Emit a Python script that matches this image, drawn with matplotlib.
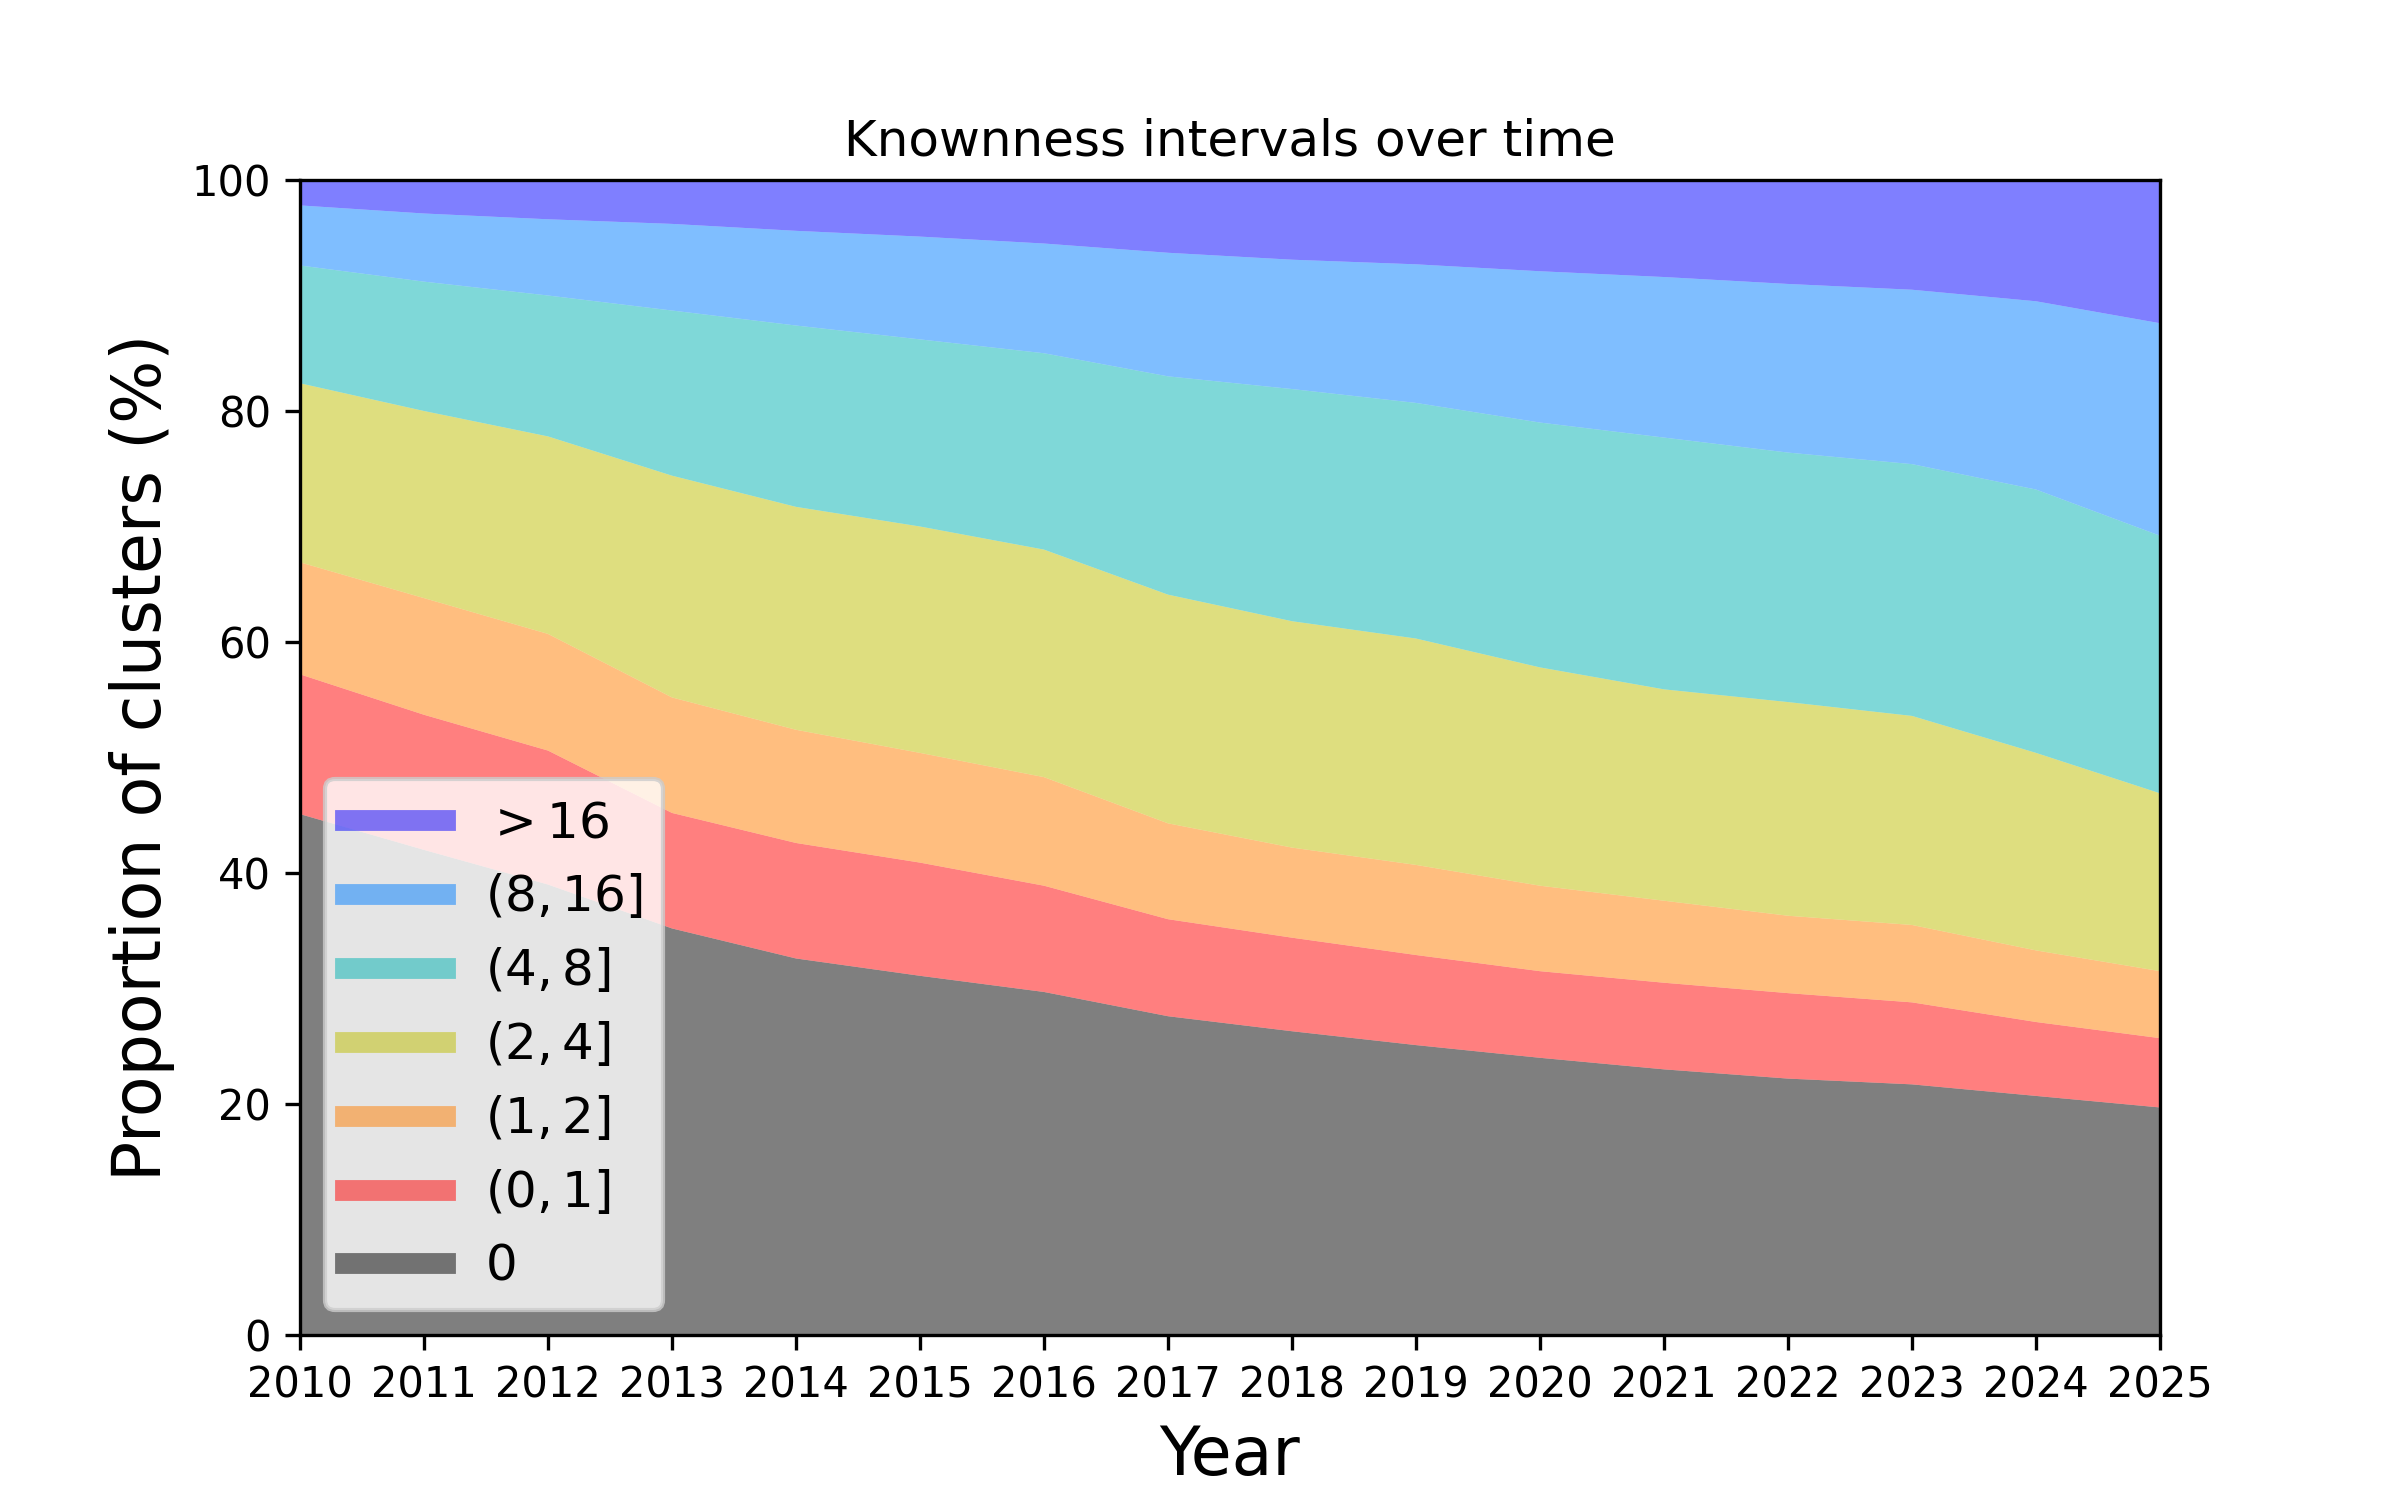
import numpy as np
import matplotlib
matplotlib.use("Agg")
import matplotlib.pyplot as plt

years = np.arange(2010, 2026)

# share of clusters (%) per knownness interval
zero    = [45.1, 42.0, 39.0, 35.2, 32.6, 31.1, 29.7, 27.6, 26.3, 25.1, 24.0, 23.0, 22.2, 21.7, 20.7, 19.7]
k0_1    = [12.1, 11.7, 11.6, 10.0, 10.0, 9.8, 9.2, 8.4, 8.1, 7.8, 7.5, 7.5, 7.4, 7.1, 6.4, 6.0]
k1_2    = [9.7, 10.1, 10.1, 10.0, 9.8, 9.5, 9.4, 8.3, 7.8, 7.8, 7.4, 7.1, 6.7, 6.7, 6.2, 5.8]
k2_4    = [15.5, 16.2, 17.1, 19.2, 19.3, 19.6, 19.7, 19.8, 19.6, 19.6, 18.9, 18.3, 18.5, 18.1, 17.1, 15.4]
k4_8    = [10.2, 11.2, 12.2, 14.3, 15.7, 16.2, 17.0, 18.9, 20.1, 20.4, 21.2, 21.8, 21.6, 21.8, 22.8, 22.3]
k8_16   = [5.2, 5.9, 6.6, 7.5, 8.2, 8.9, 9.5, 10.7, 11.2, 12.0, 13.1, 13.9, 14.6, 15.1, 16.3, 18.4]
k_gt16  = [2.2, 2.9, 3.4, 3.8, 4.4, 4.9, 5.5, 6.3, 6.9, 7.3, 7.9, 8.4, 9.0, 9.5, 10.5, 12.4]

labels = [r"$0$", r"$(0, 1]$", r"$(1, 2]$", r"$(2, 4]$", r"$(4, 8]$", r"$(8, 16]$", r"$>16$"]
colors = ["k", "r", "#ff7f00", "y", "#00b2b2", "#007fff", "b"]

fig, ax = plt.subplots(figsize=(8, 5), dpi=300)
ax.stackplot(years, zero, k0_1, k1_2, k2_4, k4_8, k8_16, k_gt16,
             colors=colors, alpha=0.5)

# legend proxies (top interval first)
handles = [ax.plot([], [], color=c, alpha=0.5, lw=5)[0] for c in colors]
ax.legend(handles[::-1], labels[::-1], loc="lower left", fontsize=12)

ax.set_xlim(2010, 2025)
ax.set_ylim(0, 100)
ax.set_xticks(years)
ax.set_title("Knownness intervals over time")
ax.set_xlabel("Year", fontsize=16)
ax.set_ylabel("Proportion of clusters (%)", fontsize=16)

fig.savefig("out.png", dpi=300)
